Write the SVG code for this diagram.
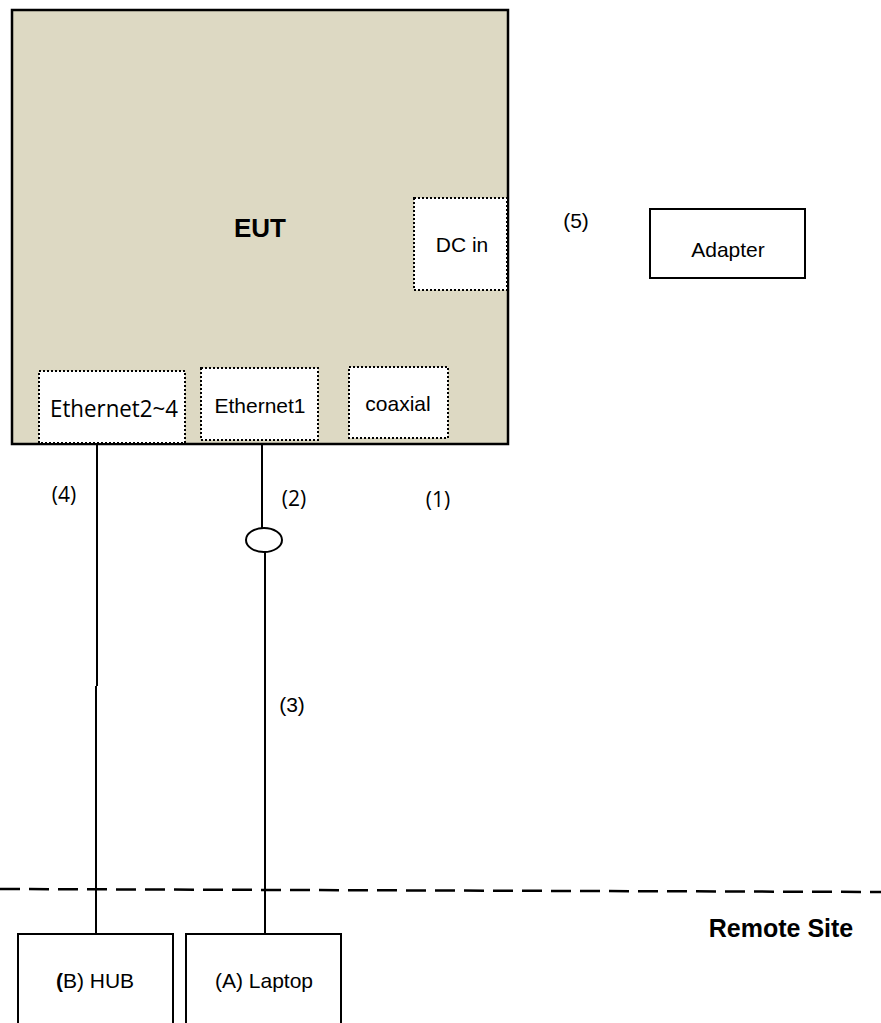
<svg xmlns="http://www.w3.org/2000/svg" width="881" height="1023" viewBox="0 0 881 1023">
<style>
.t{font-family:"Liberation Sans",Arial,sans-serif;font-size:21px;fill:#000;text-anchor:middle}
.c{font-family:"Open Sans","Noto Sans",sans-serif;font-size:21px;fill:#000;text-anchor:middle}
.b{font-weight:bold;font-size:26px}
.port{fill:#fff;stroke:#000;stroke-width:2;stroke-dasharray:2 2}
.box{fill:#fff;stroke:#000;stroke-width:2}
.wire{fill:none;stroke:#000;stroke-width:2}
</style>
<rect width="881" height="1023" fill="#fff"/>
<g id="eut">
<rect x="12" y="10" width="496" height="434" fill="#ddd9c3" stroke="#000" stroke-width="2.5"/>
<text class="t b" x="260" y="237">EUT</text>
</g>
<g id="dcin">
<rect class="port" x="414" y="198" width="93" height="92"/>
<text class="t" x="462" y="252">DC in</text>
</g>
<g id="eth24">
<rect class="port" x="39" y="371" width="146" height="72"/>
<text class="c" x="114" y="417" style="font-size:23px" textLength="128" lengthAdjust="spacingAndGlyphs">Ethernet2~4</text>
</g>
<g id="eth1">
<rect class="port" x="201" y="368" width="117" height="72"/>
<text class="t" x="260" y="413">Ethernet1</text>
</g>
<g id="coaxial">
<rect class="port" x="349" y="367" width="99" height="71"/>
<text class="t" x="398" y="411">coaxial</text>
</g>
<g id="adapter">
<rect class="box" x="650" y="209" width="155" height="69"/>
<text class="t" x="728" y="257">Adapter</text>
</g>
<g id="hub">
<rect class="box" x="18" y="934" width="155" height="100"/>
<text class="t" x="95" y="988"><tspan font-weight="bold">(</tspan>B) HUB</text>
</g>
<g id="laptop">
<rect class="box" x="186" y="934" width="155" height="100"/>
<text class="t" x="264" y="988">(A) Laptop</text>
</g>
<g id="connectors">
<line class="wire" x1="97" y1="444" x2="97" y2="686"/>
<line class="wire" x1="96" y1="686" x2="96" y2="934"/>
<line class="wire" x1="262" y1="444" x2="262" y2="528"/>
<ellipse class="wire" cx="264" cy="540" rx="18" ry="12"/>
<line class="wire" x1="265" y1="552" x2="265" y2="934"/>
<line x1="0" y1="889" x2="881" y2="892" stroke="#000" stroke-width="2.5" stroke-dasharray="20 9"/>
</g>
<g id="labels">
<text class="c" x="64" y="502">(4)</text>
<text class="c" x="294" y="506">(2)</text>
<text class="c" x="438" y="507">(1)</text>
<text class="t" x="292" y="712">(3)</text>
<text class="t" x="576" y="228">(5)</text>
<text class="t b" x="781" y="937" style="font-size:25px">Remote Site</text>
</g>
</svg>
